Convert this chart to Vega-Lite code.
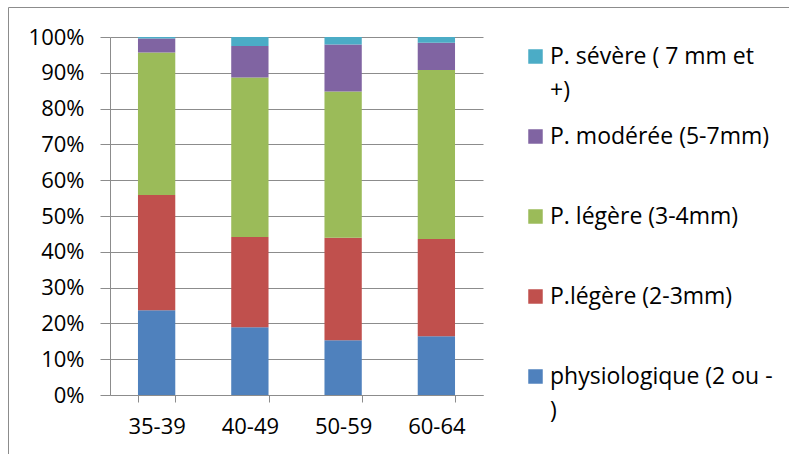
{
  "$schema": "https://vega.github.io/schema/vega-lite/v6.json",
  "width": 782,
  "height": 448,
  "autosize": "none",
  "padding": {"left": 8, "top": 7, "right": -1, "bottom": -1},
  "background": "white",
  "config": {
    "view": {"stroke": "#8c8c8c", "strokeWidth": 1},
    "font": "Open Sans"
  },
  "data": {
    "values": [
      {"age": "35-39", "classe": "physiologique (2 ou - )", "rang": 1, "pct": 23.7},
      {"age": "35-39", "classe": "P.légère (2-3mm)", "rang": 2, "pct": 32.2},
      {"age": "35-39", "classe": "P. légère (3-4mm)", "rang": 3, "pct": 39.8},
      {"age": "35-39", "classe": "P. modérée (5-7mm)", "rang": 4, "pct": 3.9},
      {"age": "35-39", "classe": "P. sévère ( 7 mm et +)", "rang": 5, "pct": 0.4},
      {"age": "40-49", "classe": "physiologique (2 ou - )", "rang": 1, "pct": 18.9},
      {"age": "40-49", "classe": "P.légère (2-3mm)", "rang": 2, "pct": 25.2},
      {"age": "40-49", "classe": "P. légère (3-4mm)", "rang": 3, "pct": 44.6},
      {"age": "40-49", "classe": "P. modérée (5-7mm)", "rang": 4, "pct": 8.8},
      {"age": "40-49", "classe": "P. sévère ( 7 mm et +)", "rang": 5, "pct": 2.5},
      {"age": "50-59", "classe": "physiologique (2 ou - )", "rang": 1, "pct": 15.3},
      {"age": "50-59", "classe": "P.légère (2-3mm)", "rang": 2, "pct": 28.6},
      {"age": "50-59", "classe": "P. légère (3-4mm)", "rang": 3, "pct": 40.9},
      {"age": "50-59", "classe": "P. modérée (5-7mm)", "rang": 4, "pct": 13.1},
      {"age": "50-59", "classe": "P. sévère ( 7 mm et +)", "rang": 5, "pct": 2.1},
      {"age": "60-64", "classe": "physiologique (2 ou - )", "rang": 1, "pct": 16.4},
      {"age": "60-64", "classe": "P.légère (2-3mm)", "rang": 2, "pct": 27.2},
      {"age": "60-64", "classe": "P. légère (3-4mm)", "rang": 3, "pct": 47.2},
      {"age": "60-64", "classe": "P. modérée (5-7mm)", "rang": 4, "pct": 7.6},
      {"age": "60-64", "classe": "P. sévère ( 7 mm et +)", "rang": 5, "pct": 1.6}
    ]
  },
  "mark": {"type": "bar"},
  "encoding": {
    "x": {
      "field": "age",
      "type": "nominal",
      "sort": null,
      "scale": {"range": [102, 475], "paddingInner": 0.6, "paddingOuter": 0.3},
      "axis": {
        "title": null,
        "offset": -60,
        "tickBand": "extent",
        "tickSize": 7,
        "tickColor": "#8c8c8c",
        "domainColor": "#8c8c8c",
        "labelAngle": 0,
        "labelPadding": 14,
        "labelFontSize": 22,
        "labelColor": "#000000",
        "grid": false
      }
    },
    "y": {
      "field": "pct",
      "type": "quantitative",
      "stack": "normalize",
      "scale": {"domain": [0, 1], "range": [388, 30], "nice": false},
      "axis": {
        "title": null,
        "offset": -102,
        "values": [0, 0.1, 0.2, 0.3, 0.4, 0.5, 0.6, 0.7, 0.8, 0.9, 1],
        "format": ".0%",
        "tickSize": 10,
        "tickColor": "#8c8c8c",
        "domainColor": "#8c8c8c",
        "gridColor": "#8c8c8c",
        "labelPadding": 16,
        "labelFontSize": 22,
        "labelColor": "#000000"
      }
    },
    "color": {
      "field": "classe",
      "type": "nominal",
      "scale": {
        "domain": ["P. sévère ( 7 mm et +)", "P. modérée (5-7mm)", "P. légère (3-4mm)", "P.légère (2-3mm)", "physiologique (2 ou - )"],
        "range": ["#4BACC6", "#8064A2", "#9BBB59", "#C0504D", "#4F81BD"]
      },
      "legend": {
        "title": null,
        "orient": "none",
        "legendX": 516,
        "legendY": 38,
        "padding": 0,
        "symbolType": "square",
        "symbolSize": 210,
        "symbolStrokeWidth": 0,
        "labelFontSize": 23,
        "labelColor": "#000000",
        "labelOffset": 3,
        "labelLimit": 400,
        "gridAlign": "all",
        "rowPadding": 22,
        "labelExpr": "datum.label === 'P. sévère ( 7 mm et +)' ? ['P. sévère ( 7 mm et', '+)'] : datum.label === 'physiologique (2 ou - )' ? ['physiologique (2 ou -', ')'] : datum.label",
        "encode": {"labels": {"update": {"lineHeight": {"value": 34}}}}
      }
    },
    "order": {"field": "rang", "type": "quantitative"}
  }
}
